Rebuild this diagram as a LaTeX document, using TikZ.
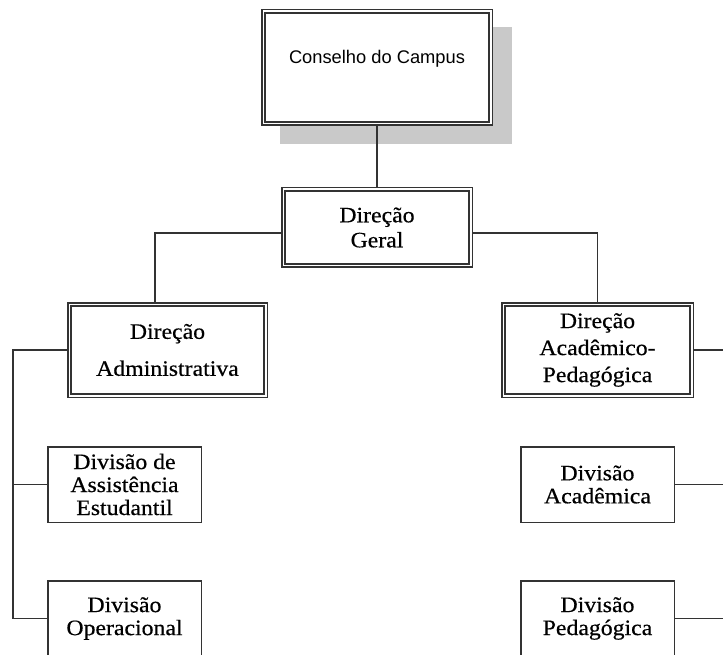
\documentclass[tikz,border=0pt]{standalone}
\usepackage{fontspec}
\setmainfont{Liberation Serif}[FakeStretch=1.08,FakeBold=0.5]
\newfontfamily\campusfont{Liberation Sans}
\usetikzlibrary{backgrounds}
\definecolor{rulegray}{HTML}{333333}
\definecolor{shadegray}{HTML}{C9C9C9}

\begin{document}
\begin{tikzpicture}[x=1pt,y=1pt,-,line width=1.5pt,
	head node/.style={rectangle,draw=rulegray,double=white,double distance=1.8pt,fill=white,
		inner sep=0pt,outer sep=2.4pt,align=center,font=\fontsize{22}{25}\selectfont},
	unit node/.style={rectangle,draw=rulegray,fill=white,inner sep=0pt,
		minimum width=153.5pt,minimum height=75.5pt,align=center,font=\fontsize{22}{23}\selectfont}]

	\useasboundingbox (0,0) rectangle (723,-655);
	\clip (0,0) rectangle (723,-655);
	\coordinate (rim) at (723,0);

	\node[head node,minimum width=187.2pt,minimum height=76.2pt] (geral) at (377,-227.5) {Direção\\Geral};
	\node[head node,minimum width=227.2pt,minimum height=112.2pt,text height=13pt,text depth=21pt,
		font=\campusfont\fontsize{18.3}{22}\selectfont] (cons) [above of=geral,node distance=160pt] {Conselho do Campus};
	\node[head node,minimum width=196.2pt,minimum height=91.2pt] (adm) [below of=geral,node distance=122.5pt,xshift=-209.5pt] {Direção\\[12pt]Administrativa};
	\node[head node,minimum width=188.2pt,minimum height=91.2pt,font=\fontsize{22}{27}\selectfont] (acad) [right of=adm,node distance=430pt] {Direção\\Acadêmico-\\Pedagógica};
	\node[unit node] (asst) [below of=adm,node distance=134.5pt,xshift=-43pt] {Divisão de\\Assistência\\Estudantil};
	\node[unit node] (oper) [below of=asst,node distance=134pt] {Divisão\\Operacional};
	\node[unit node] (divacad) [right of=asst,node distance=473pt] {Divisão\\Acadêmica};
	\node[unit node] (pedag) [right of=oper,node distance=473pt] {Divisão\\Pedagógica};

	% sombra do conselho
	\begin{scope}[on background layer]
		\fill[shadegray] ([xshift=19pt,yshift=-18pt]cons.north west) rectangle ([xshift=19pt,yshift=-18pt]cons.south east);
	\end{scope}

	\draw[rulegray] (cons) -- (geral);
	\draw[rulegray] ([yshift=-5.5pt]geral.west) -| ([xshift=-12.5pt]adm.north);
	\draw[rulegray] ([yshift=-5.5pt]geral.east) -| (acad.north);
	\draw[rulegray] (adm.west) -- ++(-54,0) |- (oper.west);
	\draw[rulegray] (asst.west) -- ++(-34.5,0);
	\draw[rulegray] (acad.east) -- (acad.east -| rim);
	\draw[rulegray] (divacad.east) -- (divacad.east -| rim);
	\draw[rulegray] (pedag.east) -- (pedag.east -| rim);
\end{tikzpicture}
\end{document}
